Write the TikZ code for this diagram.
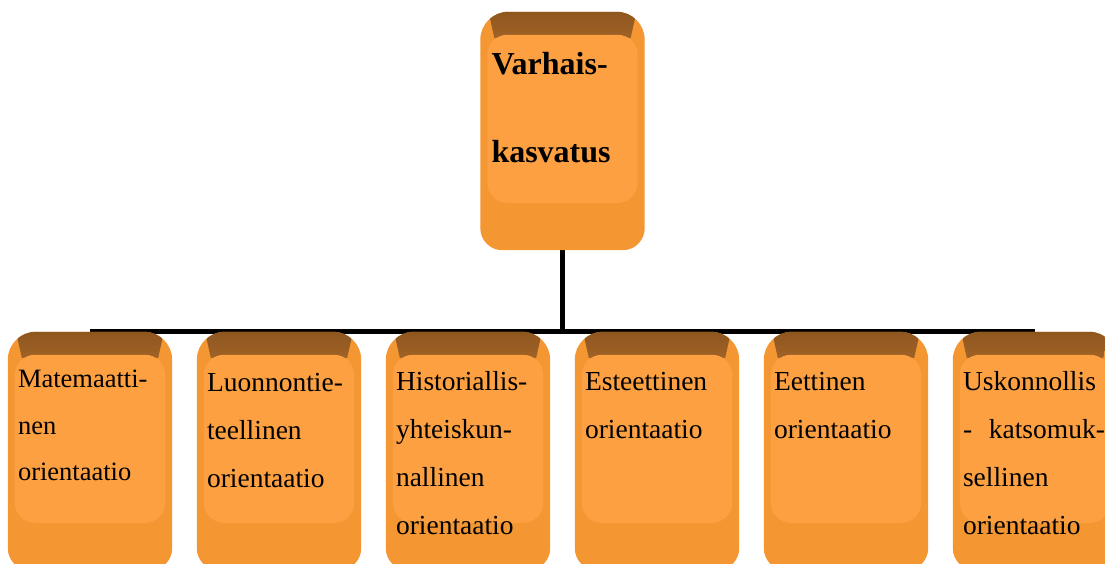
\documentclass[tikz,border=0pt]{standalone}
\usepackage{fontspec}
\setmainfont{Liberation Serif}
\usetikzlibrary{calc}
\definecolor{bodycol}{RGB}{244,150,50}
\definecolor{facecol}{RGB}{252,160,66}
\definecolor{darkcol}{RGB}{160,98,38}
\definecolor{darktop}{RGB}{142,86,32}
\tikzset{
  boxnode/.style={rectangle, minimum width=164pt, minimum height=238pt, inner sep=0pt, draw=none},
  lbl/.style={anchor=base west, inner sep=0pt, text width=142pt, align=left, font=\fontsize{27.5}{48}\selectfont},
  lblone/.style={lbl, font=\fontsize{26.5}{46.5}\selectfont},
  toplbl/.style={anchor=base west, inner sep=0pt, text width=142pt, align=left, font=\bfseries\fontsize{32}{88}\selectfont},
  conn/.style={line width=5pt, black}
}
\newcommand{\outerpath}[1]{%
  ($(#1.north west)+(0,120)$) -- ($(#1.north west)+(0,28)$)
  arc[start angle=180, end angle=90, radius=28pt] -- ($(#1.north east)+(-28,0)$)
  arc[start angle=90, end angle=0, radius=28pt] -- ($(#1.north east)+(0,120)$)
  -- ($(#1.south east)+(0,-22)$) arc[start angle=0, end angle=-90, radius=22pt]
  -- ($(#1.south west)+(22,0)$) arc[start angle=270, end angle=180, radius=22pt] -- cycle}
\newcommand{\bevelbox}[1]{%
  \fill[bodycol] \outerpath{#1};
  \begin{scope}
    \clip \outerpath{#1};
    \shade[top color=darktop, bottom color=darkcol]
      ($(#1.north west)+(8,-1)$) -- ($(#1.north east)+(-8,-1)$) --
      ($(#1.north east)+(-14,26)$) -- ($(#1.north west)+(14,26)$) -- cycle;
  \end{scope}
  \fill[facecol, rounded corners=20pt] ($(#1.north west)+(7,23)$) rectangle ($(#1.north east)+(-7,191)$);
}
\begin{document}
\begin{tikzpicture}[x=1pt,y=-1pt]
\clip (0,0) rectangle (1105,564);
\fill[white] (0,0) rectangle (1105,564);
% nodes
\node[boxnode] (top) at (562.5,131) {};
\node[boxnode] (b1) at (90,451) {};
\node[boxnode] (b2) at (279,451) {};
\node[boxnode] (b3) at (468,451) {};
\node[boxnode] (b4) at (657,451) {};
\node[boxnode] (b5) at (846,451) {};
\node[boxnode] (b6) at (1035,451) {};
\coordinate (hub) at (562.5,331);
% connectors
\draw[conn] (top.south) -- (hub);
\draw[conn] (b1 |- hub) -- (b6 |- hub);
% boxes
\bevelbox{top}
\bevelbox{b1}
\bevelbox{b2}
\bevelbox{b3}
\bevelbox{b4}
\bevelbox{b5}
\bevelbox{b6}
% labels
\node[toplbl] (t0) at ($(top.north west)+(11,63)$) {Varhais-\\kasvatus};
\node[lblone] (t1) at ($(b1.north west)+(10,56)$) {Matemaatti-\\nen\\orientaatio};
\node[lbl] (t2) at ($(b2.north west)+(10,60)$) {Luonnontie-\\teellinen\\orientaatio};
\node[lbl] (t3) at ($(b3.north west)+(10,59)$) {Historiallis-\\yhteiskun-\\nallinen\\orientaatio};
\node[lbl] (t4) at ($(b4.north west)+(10,59)$) {Esteettinen\\orientaatio};
\node[lbl] (t5) at ($(b5.north west)+(10,59)$) {Eettinen\\orientaatio};
\node[lbl] (t6) at ($(b6.north west)+(10,59)$) {Uskonnollis\\-\hfill katsomuk-\\sellinen\\orientaatio};
\end{tikzpicture}
\end{document}
